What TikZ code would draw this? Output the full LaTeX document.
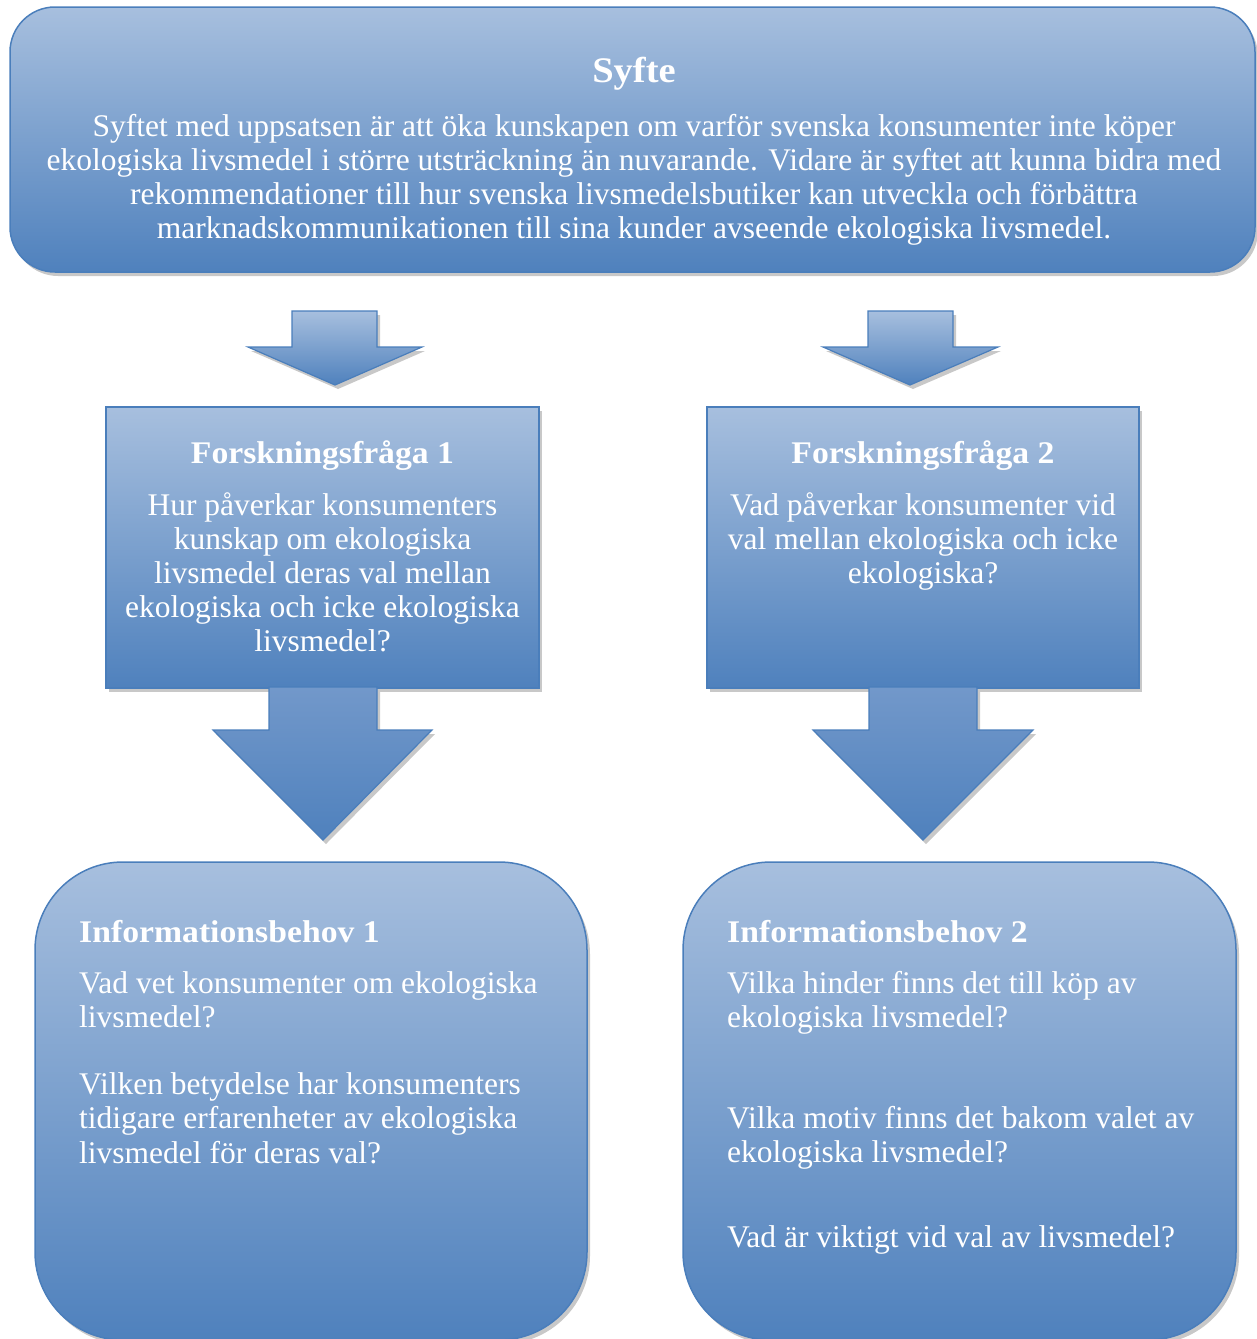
\documentclass[tikz,border=0pt]{standalone}
\usepackage{fontspec}
\setmainfont{Liberation Serif}[BoldFeatures={FakeStretch=1.07}]
\usetikzlibrary{shadows}
\definecolor{lightblue}{HTML}{A7BFDE}
\definecolor{midblue}{HTML}{7298CA}
\definecolor{darkblue}{HTML}{4F81BD}
\definecolor{edgeblue}{HTML}{4A7EBB}
\definecolor{shadowgray}{HTML}{C8C8C8}
\begin{document}
\begin{tikzpicture}[x=1pt,y=-1pt,
  softshadow/.style={drop shadow={shadow xshift=3pt, shadow yshift=-4pt, fill=shadowgray, opacity=1}},
  panel/.style={top color=lightblue, bottom color=darkblue, draw=edgeblue, line width=1.5pt,
    softshadow, inner sep=0pt, outer sep=0pt},
  smallarrow/.style={top color=lightblue, bottom color=darkblue, draw=edgeblue, line width=1.2pt, softshadow},
  bigarrow/.style={top color=midblue, bottom color=darkblue, draw=edgeblue, line width=1.2pt, softshadow},
  txt/.style={text=white, inner sep=0pt, font=\fontsize{31.5}{34}\selectfont},
  head/.style={text=white, inner sep=0pt, font=\bfseries\fontsize{31.5}{34}\selectfont},
  bighead/.style={text=white, inner sep=0pt, font=\bfseries\fontsize{36}{40}\selectfont},
  infotxt/.style={text=white, inner sep=0pt, align=left, anchor=base west, font=\fontsize{31.5}{34.5}\selectfont},
]
\useasboundingbox (0,0) rectangle (1257,1339);

% panels
\node[panel, rounded corners=45pt, minimum width=1245pt, minimum height=265pt] (syfte) at (632.5,139.5) {};
\node[panel, minimum width=433pt, minimum height=281pt] (fq1) at (322.5,547.5) {};
\node[panel, minimum width=432pt, minimum height=281pt] (fq2) at (923,547.5) {};
\node[panel, rounded corners=88pt, minimum width=552pt, minimum height=478pt] (ib1) at (311,1101) {};
\node[panel, rounded corners=88pt, minimum width=553pt, minimum height=478pt] (ib2) at (959.5,1101) {};

% block arrows from the aim to the two research questions
\path[smallarrow] (292,311) -- (377,311) -- (377,347) -- (422,347) -- (335,385)
  -- (248,347) -- (292,347) -- cycle;
\path[smallarrow] (868,311) -- (953,311) -- (953,347) -- (998,347) -- (910,385)
  -- (823,347) -- (868,347) -- cycle;

% block arrows from the research questions to the information needs
\path[bigarrow] (269,687) -- (377,687) -- (377,730) -- (432,730) -- (323,840)
  -- (213,730) -- (269,730) -- cycle;
\path[bigarrow] (869,687) -- (977,687) -- (977,730) -- (1033,730) -- (923,840)
  -- (813,730) -- (869,730) -- cycle;

% aim (multi-line nodes are anchored at the baseline of their last line)
\node[bighead, anchor=base] (syfteT) at (634,82) {Syfte};
\node[txt, align=center, anchor=base] (syfteB) at (634,238)
  {Syftet med uppsatsen är att öka kunskapen om varför svenska konsumenter inte köper\\
   ekologiska livsmedel i större utsträckning än nuvarande. Vidare är syftet att kunna bidra med\\
   rekommendationer till hur svenska livsmedelsbutiker kan utveckla och förbättra\\
   marknadskommunikationen till sina kunder avseende ekologiska livsmedel.};

% research questions
\node[head, anchor=base] (fq1T) at (322.5,463) {Forskningsfråga 1};
\node[txt, align=center, anchor=base] (fq1B) at (322.5,651)
  {Hur påverkar konsumenters\\ kunskap om ekologiska\\ livsmedel deras val mellan\\
   ekologiska och icke ekologiska\\ livsmedel?};
\node[head, anchor=base] (fq2T) at (923,463) {Forskningsfråga 2};
\node[txt, align=center, anchor=base] (fq2B) at (923,583)
  {Vad påverkar konsumenter vid\\ val mellan ekologiska och icke\\ ekologiska?};

% information needs
\node[head, anchor=base west] (ib1T) at (79,942) {Informationsbehov 1};
\node[infotxt] (ib1a) at (79,1027.5) {Vad vet konsumenter om ekologiska\\ livsmedel?};
\node[infotxt] (ib1b) at (79,1163) {Vilken betydelse har konsumenters\\ tidigare erfarenheter av ekologiska\\ livsmedel för deras val?};

\node[head, anchor=base west] (ib2T) at (727,942) {Informationsbehov 2};
\node[infotxt] (ib2a) at (727,1027.5) {Vilka hinder finns det till köp av\\ ekologiska livsmedel?};
\node[infotxt] (ib2b) at (727,1162.5) {Vilka motiv finns det bakom valet av\\ ekologiska livsmedel?};
\node[infotxt] (ib2c) at (727,1247) {Vad är viktigt vid val av livsmedel?};
\end{tikzpicture}
\end{document}
